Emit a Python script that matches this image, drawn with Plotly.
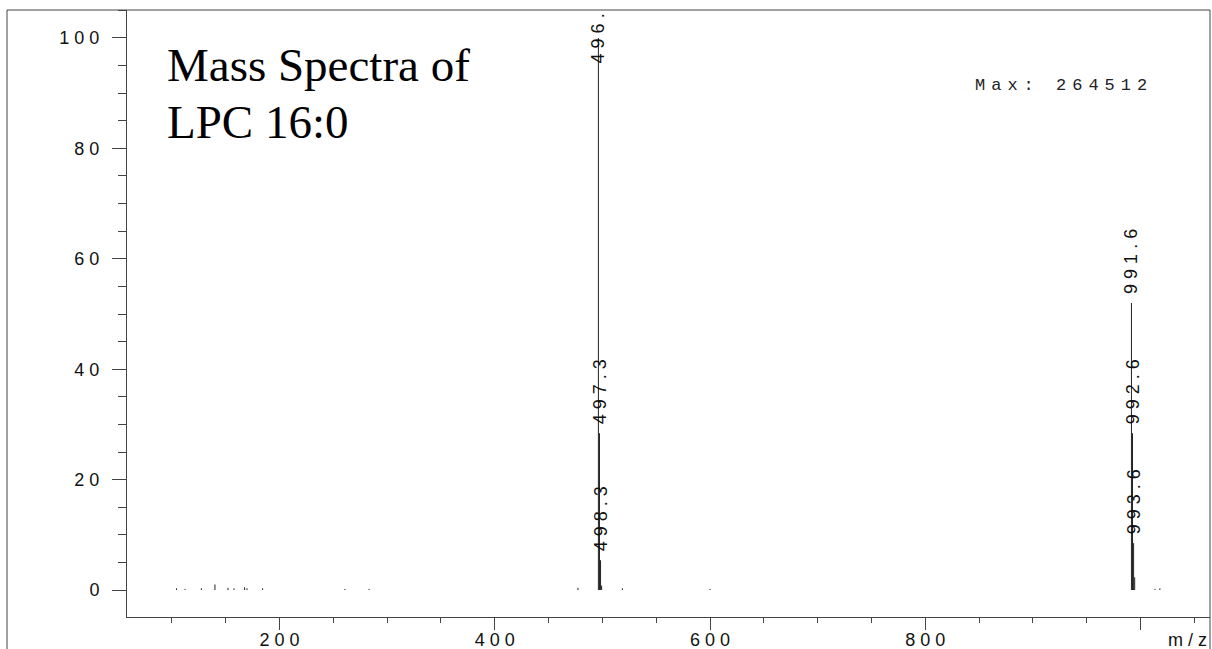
import plotly.graph_objects as go

# ---- data ----
peak_mz = [496.3, 497.3, 498.3, 991.6, 992.6, 993.6]
peak_int = [100.0, 28.4, 5.4, 52.0, 28.4, 8.5]
peak_labels = ["496.", "497.3", "498.3", "991.6", "992.6", "993.6"]

noise_mz = [104.3, 112.2, 127.4, 140.0, 152.1, 157.7, 167.6, 169.8, 184.3,
            260.8, 283.2, 477.3, 499.3, 518.6, 600.0, 994.6, 1013.5, 1018.0]
noise_int = [0.3, 0.2, 0.3, 1.0, 0.4, 0.3, 0.5, 0.3, 0.3,
             0.2, 0.2, 0.4, 0.8, 0.3, 0.2, 2.3, 0.2, 0.3]

x_tickvals = [200, 400, 600, 800, 1000]
x_ticktext = ["200", "400", "600", "800", ""]
y_tickvals = [0, 20, 40, 60, 80, 100]
y_ticktext = ["0", "20", "40", "60", "80", "100"]

title_lines = ["Mass Spectra of", "LPC 16:0"]
max_text = "Max: 264512"
x_unit = "m/z"


def spaced(s):
    return " ".join(list(s))


xs, ys = [], []
for m, h in zip(peak_mz + noise_mz, peak_int + noise_int):
    xs += [m, m, None]
    ys += [0, h, None]

fig = go.Figure()
fig.add_trace(go.Scatter(x=xs, y=ys, mode="lines",
                         line=dict(color="#222222", width=1),
                         hoverinfo="skip", showlegend=False))

TICKFONT = dict(family="Liberation Sans, Arial, sans-serif", size=18, color="#111111")

annotations = []
for m, h, lab in zip(peak_mz, peak_int, peak_labels):
    if h >= 99:
        annotations.append(dict(x=m, y=1, xref="x", yref="paper", text=spaced(lab),
                                textangle=-90, showarrow=False, xanchor="center",
                                yanchor="top", yshift=-1, font=TICKFONT))
    else:
        annotations.append(dict(x=m, y=h, xref="x", yref="y", text=spaced(lab),
                                textangle=-90, showarrow=False, xanchor="center",
                                yanchor="bottom", yshift=7, font=TICKFONT))

TITLEFONT = dict(family="Liberation Serif, Times New Roman, serif", size=47, color="#000000")
annotations.append(dict(x=0.0351, y=0.9094, xref="paper", yref="paper", text=title_lines[0],
                        showarrow=False, xanchor="left", yanchor="middle", font=TITLEFONT))
annotations.append(dict(x=0.0351, y=0.8155, xref="paper", yref="paper", text=title_lines[1],
                        showarrow=False, xanchor="left", yanchor="middle", font=TITLEFONT))
annotations.append(dict(x=0.7812, y=0.8748, xref="paper", yref="paper",
                        text="<span style='letter-spacing:6px'>" + max_text.replace(" ", "\u00a0") + "</span>",
                        showarrow=False, xanchor="left", yanchor="middle",
                        font=dict(family="Liberation Mono, Courier New, monospace", size=17, color="#222222")))
annotations.append(dict(x=(1187 - 127) / 1083, y=(617 - 640) / 607, xref="paper", yref="paper",
                        text=spaced(x_unit), showarrow=False, xanchor="center", yanchor="middle",
                        font=TICKFONT))

AX = "#444444"
fig.update_layout(
    width=1212, height=649,
    margin=dict(l=127, r=2, t=10, b=32, autoexpand=False),
    paper_bgcolor="white", plot_bgcolor="white",
    showlegend=False,
    annotations=annotations,
    xaxis=dict(range=[58.29, 1064.59], tickvals=x_tickvals,
               ticktext=[spaced(t) for t in x_ticktext],
               ticks="outside", ticklen=12, tickwidth=1, tickcolor=AX,
               minor=dict(dtick=50, tick0=0, ticks="outside", ticklen=5, tickcolor=AX, tickwidth=1),
               showline=True, linecolor=AX, linewidth=1, showgrid=False, zeroline=False,
               tickfont=TICKFONT, ticklabelstandoff=-6, automargin=False),
    yaxis=dict(range=[-4.89, 105.07], tickvals=y_tickvals,
               ticktext=[spaced(t) for t in y_ticktext],
               ticks="outside", ticklen=14, tickwidth=1, tickcolor=AX,
               minor=dict(dtick=5, tick0=0, ticks="outside", ticklen=8, tickcolor=AX, tickwidth=1),
               showline=True, linecolor=AX, linewidth=1, showgrid=False, zeroline=False,
               tickfont=TICKFONT, ticklabelstandoff=9, automargin=False),
    shapes=[
        dict(type="line", xref="paper", yref="paper", x0=-0.1108, x1=1, y0=1, y1=1,
             line=dict(color=AX, width=1)),
        dict(type="line", xref="paper", yref="paper", x0=-0.1108, x1=-0.1108, y0=-0.1, y1=1,
             line=dict(color=AX, width=1)),
        dict(type="line", xref="paper", yref="paper", x0=1, x1=1, y0=-0.1, y1=1,
             line=dict(color=AX, width=1)),
    ],
)

fig.write_html("out.html", config={"displayModeBar": False},
               post_script="document.body.style.margin='0px';document.body.style.padding='0px';document.body.style.overflow='hidden';")
